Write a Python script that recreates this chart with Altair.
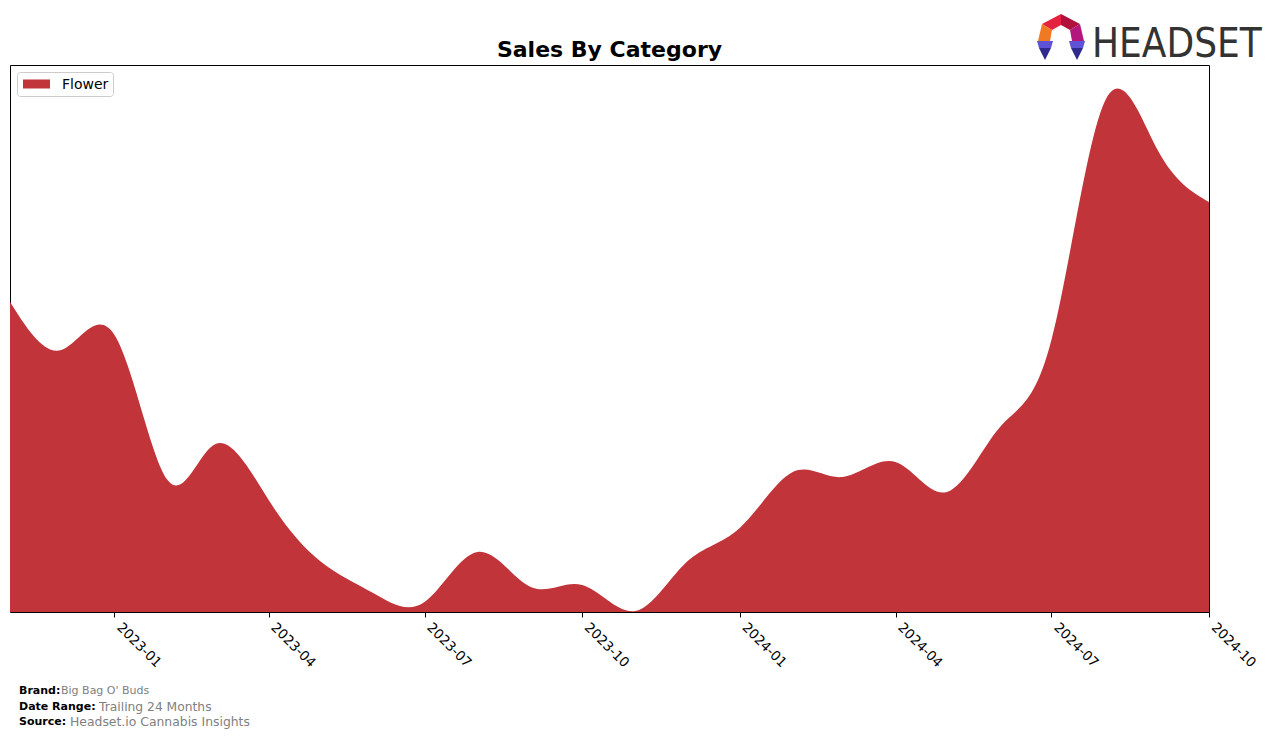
import altair as alt
import pandas as pd

# ---- data (relative sales units) ----
months = [
    "2022-11-01", "2022-12-01", "2023-01-01", "2023-02-01", "2023-03-01", "2023-04-01",
    "2023-05-01", "2023-06-01", "2023-07-01", "2023-08-01", "2023-09-01", "2023-10-01",
    "2023-11-01", "2023-12-01", "2024-01-01", "2024-02-01", "2024-03-01", "2024-04-01",
    "2024-05-01", "2024-06-01", "2024-07-01", "2024-08-01", "2024-09-01", "2024-10-01",
]
flower_sales = [
    310, 262, 277, 132, 168, 112,
    51, 19, 10, 60, 25, 27,
    1, 50, 84, 140, 135, 150,
    120, 185, 272, 510, 462, 410,
]
tick_dates = [(2023, 1), (2023, 4), (2023, 7), (2023, 10),
              (2024, 1), (2024, 4), (2024, 7), (2024, 10)]

footer_labels = ["Brand:", "Date Range:", "Source:"]
footer_values = ["Big Bag O' Buds", "Trailing 24 Months", "Headset.io Cannabis Insights"]

RED = "#C1343A"
W, H = 1199, 547
FONT = "DejaVu Sans"

df = pd.DataFrame({"month": months, "sales": flower_sales, "category": "Flower"})

x_enc = alt.X(
    "month:T",
    scale=alt.Scale(type="utc", nice=False, padding=0),
    axis=alt.Axis(
        values=[alt.DateTime(year=y, month=m, date=1, utc=True) for y, m in tick_dates],
        format="%Y-%m",
        labelAngle=45,
        labelAlign="left",
        labelBaseline="top",
        labelFont=FONT,
        labelFontSize=13.5,
        labelColor="black",
        labelPadding=3,
        labelOffset=9,
        tickSize=5,
        tickColor="black",
        domain=False,
        grid=False,
        title=None,
        labelOverlap=False,
    ),
)
y_enc = alt.Y("sales:Q", scale=alt.Scale(domain=[0, H], nice=False, zero=True), axis=None)

area = alt.Chart(df).mark_area(interpolate="natural", color=RED, opacity=1, clip=True).encode(
    x=x_enc, y=y_enc
)


def txt(text, x, y, size, weight="normal", color="black", align="left", baseline="middle", font=FONT):
    return alt.Chart(pd.DataFrame({"t": [text]})).mark_text(
        align=align, baseline=baseline, fontSize=size, fontWeight=weight,
        color=color, font=font
    ).encode(x=alt.value(x), y=alt.value(y), text="t:N")


one = pd.DataFrame({"a": [0]})

# title
title = txt("Sales By Category", 599.5, -8, 22, weight="bold", align="center", baseline="alphabetic")

# legend (drawn)
legend_box = alt.Chart(one).mark_rect(
    fill="white", fillOpacity=0.8, stroke="#cccccc", strokeWidth=1, cornerRadius=3
).encode(x=alt.value(7.5), x2=alt.value(103.5), y=alt.value(7.5), y2=alt.value(31.5))
legend_swatch = alt.Chart(one).mark_rect(fill=RED).encode(
    x=alt.value(13), x2=alt.value(40), y=alt.value(14.5), y2=alt.value(23.5)
)
legend_text = txt("Flower", 52, 19.5, 14)

# footer
footer_layers = []
fy = [626, 642, 657]
fvx = [51, 89, 60]
fsz = [11, 12.3, 12.4]
for lab, val, yy, vx, sz in zip(footer_labels, footer_values, fy, fvx, fsz):
    footer_layers.append(txt(lab, 9, yy, 11, weight="bold"))
    footer_layers.append(txt(val, vx, yy, sz, color="#808080"))

# logo
logo_text = txt("HEADSET", 1082, -8, 40, color="#333333", baseline="alphabetic",
                font="DejaVu Sans Condensed, Roboto, sans-serif")
icon_pieces = [
    ("M0,-23L-19,-13L-9,-7L0,-12Z", "#E3233F"),
    ("M0,-23L19,-13L9,-7L0,-12Z", "#B0113D"),
    ("M-19,-13L-23,4L-11,4L-9,-7Z", "#F07A24"),
    ("M19,-13L23,4L11,4L9,-7Z", "#B3177E"),
    ("M-24,4L-8,4L-10,11L-22,11Z", "#5E52D6"),
    ("M-22,11L-10,11L-16,23Z", "#2E2A8C"),
    ("M24,4L8,4L10,11L22,11Z", "#5E52D6"),
    ("M22,11L10,11L16,23Z", "#2E2A8C"),
]
icon_layers = [
    alt.Chart(one).mark_point(shape=p, size=4, filled=True, fill=c, opacity=1, strokeWidth=0)
    .encode(x=alt.value(1051), y=alt.value(-28))
    for p, c in icon_pieces
]

chart = alt.layer(
    area, title, legend_box, legend_swatch, legend_text, logo_text, *icon_layers, *footer_layers
).properties(
    width=W, height=H,
    autosize=alt.AutoSizeParams(type="none"),
    padding={"left": 10, "top": 65, "right": 67, "bottom": 127},
    background="white",
).configure_view(stroke="black", strokeWidth=1)

chart.save("out.html", embed_options={"renderer": "svg", "actions": False})
